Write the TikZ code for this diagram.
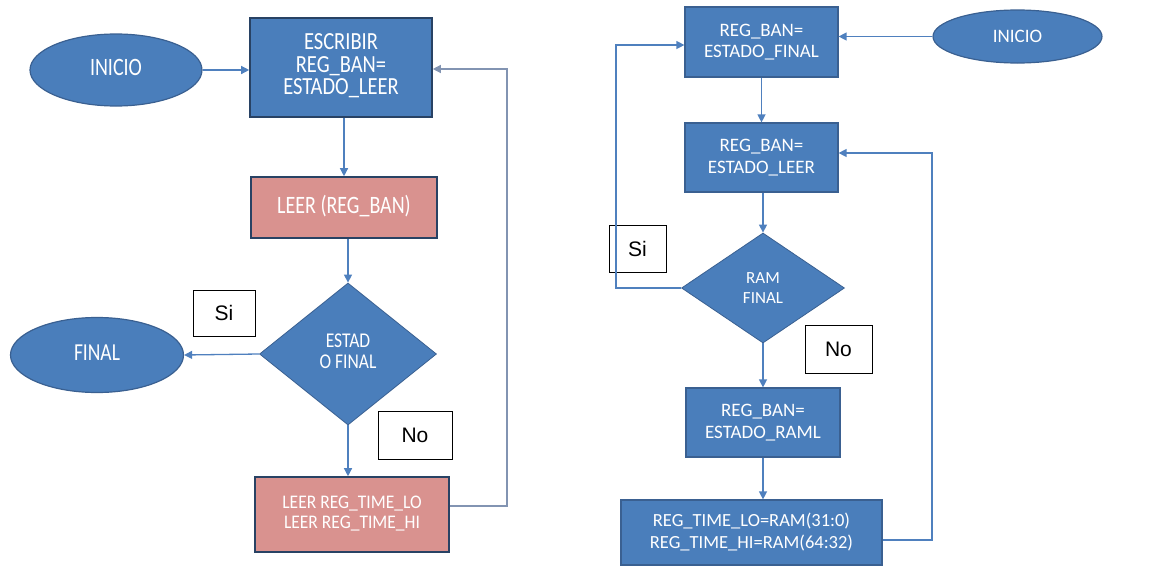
\documentclass[tikz,border=0pt]{standalone}
\usepackage{fontspec}
\setmainfont{Carlito}
\newfontfamily\arialf{Liberation Sans}
\usetikzlibrary{shapes.geometric,arrows.meta}
\definecolor{bfill}{RGB}{74,126,187}
\definecolor{bdark}{RGB}{40,66,100}
\definecolor{bedge}{RGB}{58,96,145}
\definecolor{pfill}{RGB}{217,146,143}
\definecolor{lcol}{RGB}{79,128,190}
\definecolor{gcol}{RGB}{130,148,178}
\newcommand{\tallt}[2]{\scalebox{1}[#1]{\begin{tabular}{@{}c@{}}#2\end{tabular}}}
\tikzset{
  x=1pt, y=-1pt,
  base/.style={text=white, inner sep=0pt, align=center},
  lbox/.style={base, rectangle, fill=bfill, draw=bdark, line width=1.6pt},
  pbox/.style={base, rectangle, fill=pfill, draw=bdark, line width=1.6pt},
  rbox/.style={base, rectangle, fill=bfill, draw=bedge, line width=1.2pt},
  oval/.style={base, ellipse, fill=bfill, draw=bedge, line width=1.2pt},
  dia/.style={base, diamond, fill=bfill, draw=bedge, line width=0.8pt},
  lab/.style={rectangle, draw=black, line width=0.8pt, fill=white, inner sep=0pt, font=\arialf\fontsize{21}{24}\selectfont},
  conn/.style={draw=lcol, line width=1.3pt, -{Triangle[width=8pt,length=8pt]}},
  gconn/.style={draw=gcol, line width=1.3pt, -{Triangle[width=8pt,length=8pt]}},
}
\begin{document}
\begin{tikzpicture}
\useasboundingbox (0,0) rectangle (1163,568);
% ---------- left flowchart ----------
\node[oval, minimum width=172, minimum height=72, font=\fontsize{20}{22}\selectfont] (ini1) at (116,70) {\tallt{1.25}{INICIO}};
\node[lbox, minimum width=182, minimum height=99, font=\fontsize{20.5}{18.5}\selectfont] (esc) at (341,67.5) {\tallt{1.2}{ESCRIBIR\\REG\_BAN=\\ESTADO\_LEER}};
\node[pbox, minimum width=186, minimum height=61, font=\fontsize{20}{22}\selectfont] (leer) at (344,207.5) {\tallt{1.25}{LEER (REG\_BAN)}};
\node[dia, minimum width=177, minimum height=142, font=\fontsize{17.5}{17.5}\selectfont] (d1) at (348,354) {\tallt{1.2}{ESTAD\\O FINAL}};
\node[oval, minimum width=173, minimum height=75, font=\fontsize{19.5}{22}\selectfont] (fin) at (97,355) {\tallt{1.25}{FINAL}};
\node[pbox, minimum width=194, minimum height=75, font=\fontsize{17.5}{18}\selectfont] (lt) at (352,514.5) {\tallt{1.1}{LEER REG\_TIME\_LO\\LEER REG\_TIME\_HI}};
\node[lab, minimum width=62, minimum height=46] (si1) at (224,313) {Si};
\node[lab, minimum width=74, minimum height=48] (no1) at (415,435) {No};
\coordinate (fb1) at (507,506);
\draw[conn] (ini1) -- (esc.west |- ini1);
\draw[conn] (esc.south -| leer) -- (leer.north);
\draw[conn] (leer.south -| d1) -- (d1.north);
\draw[conn] (d1.west) -- (fin.east);
\draw[conn] (d1.south) -- (d1.south |- lt.north);
\draw[gconn] (lt.east |- fb1) -- (fb1) |- ([yshift=-1.5pt]esc.east);
% ---------- right flowchart ----------
\node[rbox, minimum width=153, minimum height=70, font=\fontsize{19}{21.5}\selectfont] (rf) at (761.5,42) {REG\_BAN=\\ESTADO\_FINAL};
\node[oval, minimum width=169, minimum height=53, font=\fontsize{19}{21}\selectfont] (ini2) at (1017.5,36.5) {INICIO};
\node[rbox, minimum width=153, minimum height=69, font=\fontsize{19}{21.5}\selectfont] (rl) at (761.5,157.5) {REG\_BAN=\\ESTADO\_LEER};
\node[dia, minimum width=163, minimum height=110, font=\fontsize{17}{20}\selectfont] (d2) at (763,288) {RAM\\FINAL};
\node[rbox, minimum width=154, minimum height=69, font=\fontsize{19}{21.5}\selectfont] (rr) at (763,422.5) {REG\_BAN=\\ESTADO\_RAML};
\node[rbox, minimum width=261, minimum height=65, font=\fontsize{18.5}{22}\selectfont] (rt) at (751.5,532.5) {REG\_TIME\_LO=RAM(31:0)\\REG\_TIME\_HI=RAM(64:32)};
\node[lab, minimum width=57, minimum height=47] (si2) at (637.5,248.5) {Si};
\node[lab, minimum width=67, minimum height=48] (no2) at (838.5,349) {No};
\coordinate (sl) at (616,45);
\coordinate (fb2) at (932,540);
\coordinate (fb2t) at (932,153);
\draw[conn] (ini2.west) -- (rf.east |- ini2.west);
\draw[conn] (rf.south -| rl) -- (rl.north);
\draw[conn] (rl.south -| d2) -- (d2.north);
\draw[conn] (d2.west) -| (sl) -- (rf.west |- sl);
\draw[conn] (d2.south) -- (d2.south |- rr.north);
\draw[conn] (rr.south) -- (rr.south |- rt.north);
\draw[conn] (rt.east |- fb2) -- (fb2) -- (fb2t) -- (rl.east |- fb2t);
\end{tikzpicture}
\end{document}
